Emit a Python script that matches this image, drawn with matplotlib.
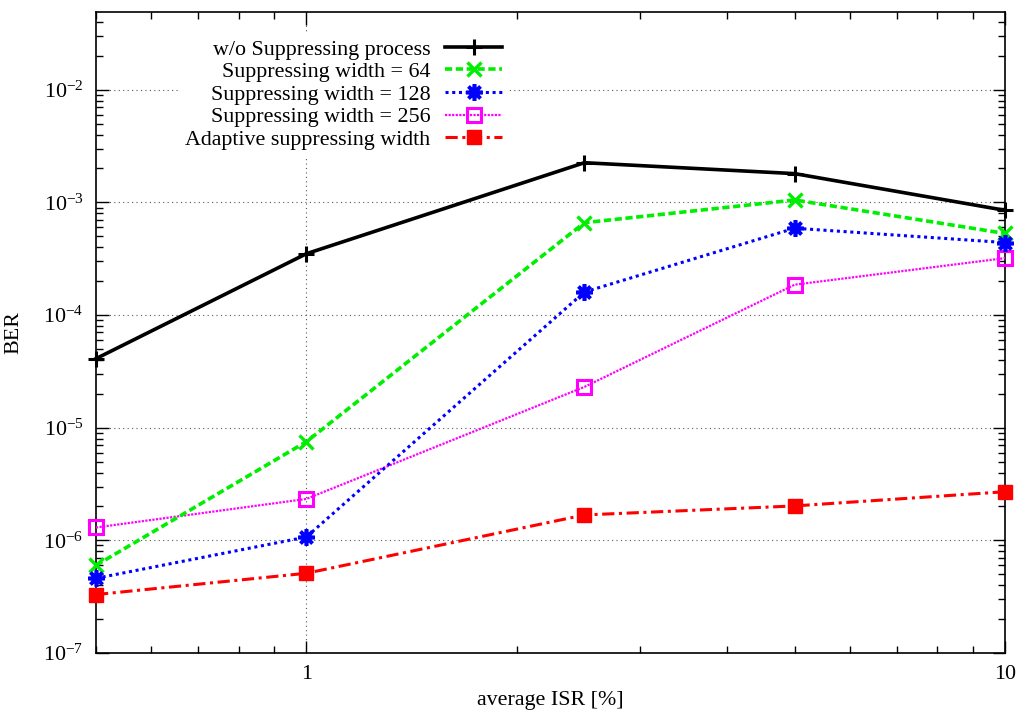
import matplotlib
matplotlib.use("Agg")
import matplotlib.pyplot as plt
import matplotlib.ticker as mticker

plt.rcParams["font.family"] = ["Liberation Serif", "DejaVu Serif"]
plt.rcParams["mathtext.fontset"] = "custom"
plt.rcParams["mathtext.rm"] = "Liberation Serif"
plt.rcParams["mathtext.it"] = "Liberation Serif:italic"
plt.rcParams["axes.unicode_minus"] = False

# ── Data ─────────────────────────────────────────────────────────────────────
isr = [0.5, 1.0, 2.5, 5.0, 10.0]

ber_none  = [4.1e-5, 3.5e-4, 2.25e-3, 1.8e-3, 8.5e-4]
ber_w64   = [6.0e-7, 7.5e-6, 6.6e-4, 1.05e-3, 5.3e-4]
ber_w128  = [4.6e-7, 1.07e-6, 1.6e-4, 5.9e-4, 4.4e-4]
ber_w256  = [1.3e-6, 2.33e-6, 2.3e-5, 1.86e-4, 3.2e-4]
ber_adapt = [3.3e-7, 5.1e-7, 1.68e-6, 2.02e-6, 2.7e-6]

labels = ["w/o Suppressing process",
          "Suppressing width = 64",
          "Suppressing width = 128",
          "Suppressing width = 256",
          "Adaptive suppressing width"]

FS = 15.8

fig = plt.figure(figsize=(10.19, 7.22), dpi=100)
ax = fig.add_axes([0.0942, 0.0956, 0.9863 - 0.0942, 0.9834 - 0.0956])

ax.plot(isr, ber_none, color="black", lw=2.6, marker="+", ms=12, mew=2.2,
        label=labels[0], zorder=5, clip_on=False)
ax.plot(isr, ber_w64, color="#00ee00", lw=2.6, ls=(0, (2.0, 1.0)), marker="x",
        ms=10, mew=2.4, label=labels[1], zorder=4, clip_on=False)
ax.plot(isr, ber_w128, color="#0000ff", lw=2.2, ls=(0, (1.0, 1.2)), marker=(8, 2, 0),
        ms=12, mew=2.6, label=labels[2], zorder=4, clip_on=False)
ax.plot(isr, ber_w256, color="#ff00ff", lw=1.6, ls=(0, (1.0, 0.6)), marker="s",
        ms=10, mew=2.2, mfc="none", label=labels[3], zorder=3, clip_on=False)
ax.plot(isr, ber_adapt, color="#ff0000", lw=2.2, ls=(0, (4.0, 1.5, 1.0, 1.5)),
        marker="s", ms=10, label=labels[4], zorder=3, clip_on=False)

ax.set_xscale("log")
ax.set_yscale("log")
ax.set_xlim(0.5, 10)
ax.set_ylim(1e-7, 0.049)

ax.xaxis.set_major_locator(mticker.FixedLocator([1, 10]))
ax.xaxis.set_major_formatter(mticker.FormatStrFormatter("%g"))
ax.xaxis.set_minor_locator(mticker.LogLocator(base=10, subs=range(2, 10), numticks=20))
ax.xaxis.set_minor_formatter(mticker.NullFormatter())
ax.yaxis.set_major_locator(mticker.LogLocator(base=10, numticks=20))
ax.yaxis.set_major_formatter(mticker.LogFormatterMathtext())
ax.yaxis.set_minor_locator(mticker.LogLocator(base=10, subs=range(2, 10), numticks=20))
ax.yaxis.set_minor_formatter(mticker.NullFormatter())

ax.tick_params(which="both", direction="in", top=True, right=True,
               labelsize=FS, width=1.0)
ax.tick_params(which="major", length=9, pad=9)
ax.tick_params(which="minor", length=5)
for sp in ax.spines.values():
    sp.set_linewidth(1.2)

ax.grid(True, which="major", color="#555555", ls=(0, (1, 3)), lw=0.8)
ax.set_axisbelow(True)

ax.set_xlabel("average ISR [%]", fontsize=FS, labelpad=5)
ax.set_ylabel("BER", fontsize=FS, labelpad=14)

leg = ax.legend(loc="upper left", bbox_to_anchor=(0.079, 0.985), markerfirst=False,
                frameon=True, fontsize=FS, handlelength=2.6, handletextpad=0.68,
                labelspacing=0.1, borderpad=0.3, fancybox=False)
leg.get_frame().set_edgecolor("none")
leg.get_frame().set_facecolor("white")
leg.get_frame().set_alpha(1.0)

fig.savefig("out.png", dpi=100, facecolor="white")
